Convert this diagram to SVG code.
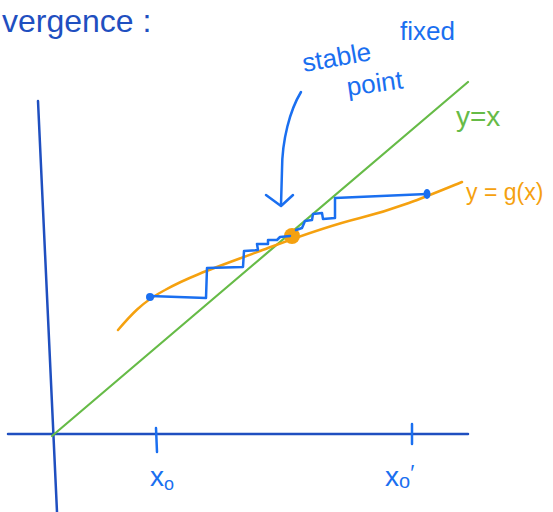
<svg xmlns="http://www.w3.org/2000/svg" width="553" height="512" viewBox="0 0 553 512">
<style>
.axis{stroke:#1f4fc0;stroke-width:2.5;fill:none;stroke-linecap:round}
.ink{stroke:#1a6ff0;stroke-width:2.5;fill:none;stroke-linecap:round;stroke-linejoin:round}
.grn{stroke:#66bb47;stroke-width:2.2;fill:none;stroke-linecap:round}
.org{stroke:#f5a10f;stroke-width:2.5;fill:none;stroke-linecap:round}
.t{font-family:"Liberation Sans",Arial,sans-serif}
</style>
<rect width="553" height="512" fill="#fff"/>
<g id="title"><text class="t" x="2" y="32" font-size="32" fill="#1f4fc0">vergence :</text></g>
<g id="axes">
<path class="axis" d="M38,101 L57,512"/>
<path class="axis" d="M8,434 L468,434"/>
<path class="ink" d="M156,428 L157,452"/>
<path class="ink" d="M412,424 L412,444"/>
</g>
<g id="line-yx">
<path class="grn" d="M52,436 L468,82"/>
<text class="t" x="456" y="126" font-size="28" fill="#66bb47">y=x</text>
</g>
<g id="curve-g">
<path class="org" d="M118,330 C130,316 142,302 165,290 C190,276 220,266 260,251 C290,240 320,228 360,218 C400,208 430,195 462,182"/>
<text class="t" x="466" y="200" font-size="23" fill="#f5a10f">y = g(x)</text>
</g>
<g id="fixed-point"><circle cx="292" cy="236" r="8" fill="#f5a10f"/></g>
<g id="connectors">
<path class="ink" d="M150,296 L206,298 L207,268 L243,267 L244,251 L258,250 L257,244 L268,244 L268,240 L277,240 L280,237 L290,236"/>
<path class="ink" d="M427,194 L335,198 L335,218 L323,219 L322,213 L313,214 L312,220 L305,221 L302,228 L296,230"/>
<circle cx="150" cy="297" r="4" fill="#1a6ff0"/>
<ellipse cx="427" cy="194" rx="3.5" ry="5" fill="#1a6ff0"/>
<path class="ink" d="M301,92 C290,110 282,140 282,170 L281,205"/>
<path class="ink" d="M266,195 L281,206 L293,195"/>
</g>
<g id="labels">
<text class="t" x="304" y="72" font-size="26" fill="#1a6ff0" transform="rotate(-10 304 72)">stable</text>
<text class="t" x="400" y="40" font-size="26" fill="#1a6ff0">fixed</text>
<text class="t" x="348" y="96" font-size="26" fill="#1a6ff0" transform="rotate(-8 348 96)">point</text>
<text class="t" x="150" y="486" font-size="28" fill="#1a6ff0">x<tspan font-size="18" dy="4">o</tspan></text>
<text class="t" x="385" y="486" font-size="28" fill="#1a6ff0">x<tspan font-size="20" dy="2">o</tspan><tspan dy="-8" font-size="22">′</tspan></text>
</g>
</svg>
